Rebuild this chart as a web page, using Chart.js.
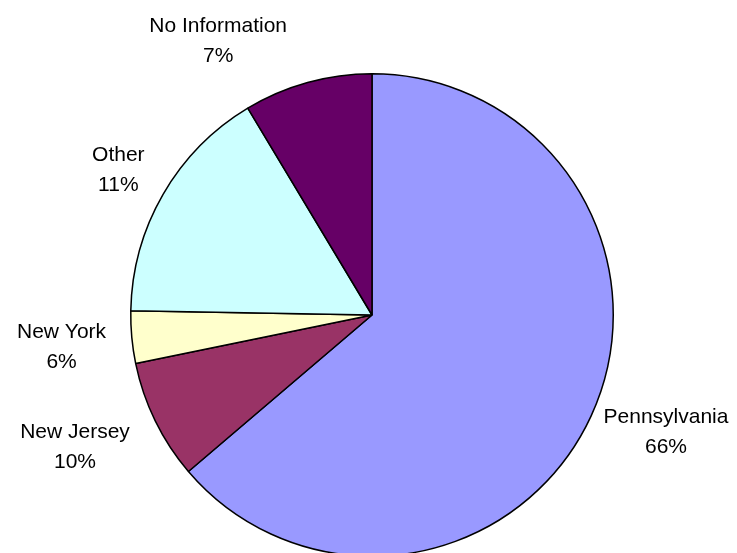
<!DOCTYPE html>
<html>
<head>
<meta charset="utf-8">
<style>
  html, body { margin: 0; padding: 0; background: #fff; overflow: hidden; }
  #wrap { width: 737px; height: 553px; overflow: hidden; }
</style>
<script src="https://cdn.jsdelivr.net/npm/chart.js@4/dist/chart.umd.min.js"></script>
</head>
<body>
<div id="wrap"><canvas id="pie" width="737" height="640"></canvas></div>
<script>
const categories = ["Pennsylvania", "New Jersey", "New York", "Other", "No Information"];
const shares = [63.7, 8.0, 3.5, 16.1, 8.6];
const percentLabels = ["66%", "10%", "6%", "11%", "7%"];
const sliceColors = ["#9999FF", "#993366", "#FFFFCC", "#CCFFFF", "#660066"];

// small hand nudges so labels sit where the original placed them
const labelNudge = [[-9, -9], [-4, 0], [4, 4], [4, 6], [-63, 17]];

const outsideLabels = {
  id: "outsideLabels",
  afterDatasetsDraw(chart) {
    const ctx = chart.ctx;
    const meta = chart.getDatasetMeta(0);
    const lineHeight = 30.5;
    const gap = 30;
    ctx.save();
    ctx.font = '21px "Liberation Sans", Arial, sans-serif';
    ctx.fillStyle = "#000";
    ctx.textAlign = "center";
    ctx.textBaseline = "middle";
    meta.data.forEach((arc, i) => {
      const { x, y, startAngle, endAngle, outerRadius } = arc.getProps(
        ["x", "y", "startAngle", "endAngle", "outerRadius"], true
      );
      const mid = (startAngle + endAngle) / 2;
      const dx = Math.cos(mid);
      const dy = Math.sin(mid);
      const lines = [categories[i], percentLabels[i]];
      const w = Math.max(...lines.map((t) => ctx.measureText(t).width));
      const h = lines.length * lineHeight;
      const cx = x + (outerRadius + gap) * dx + dx * w / 2 + labelNudge[i][0];
      const cy = y + (outerRadius + gap) * dy + dy * h / 2 + labelNudge[i][1];
      lines.forEach((t, k) => {
        ctx.fillText(t, cx, cy - h / 2 + lineHeight * (k + 0.5));
      });
    });
    ctx.restore();
  },
};

new Chart(document.getElementById("pie"), {
  type: "pie",
  data: {
    labels: categories,
    datasets: [
      {
        data: shares,
        backgroundColor: sliceColors,
        borderColor: "#000",
        borderWidth: 1.5,
      },
    ],
  },
  options: {
    responsive: false,
    animation: false,
    layout: {
      padding: { left: 129, right: 122, top: 73, bottom: 83 },
    },
    plugins: {
      legend: { display: false },
      tooltip: { enabled: false },
    },
  },
  plugins: [outsideLabels],
});
</script>
</body>
</html>
